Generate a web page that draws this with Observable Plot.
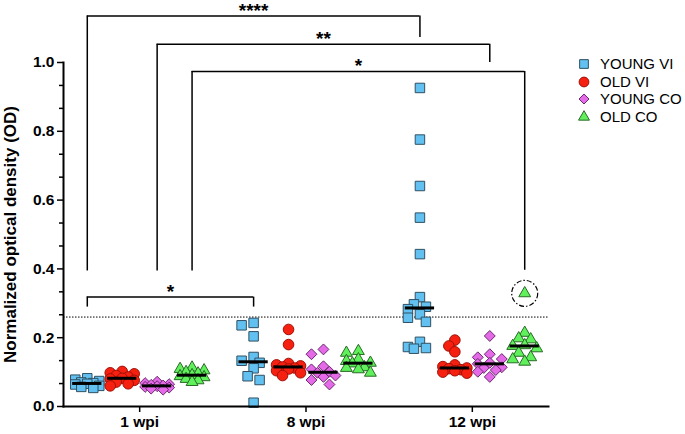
<!DOCTYPE html>
<html><head><meta charset="utf-8">
<script src="https://cdn.jsdelivr.net/npm/d3@7"></script>
<script src="https://cdn.jsdelivr.net/npm/@observablehq/plot@0.6"></script>
<style>
body{margin:0;background:#fff;font-family:"Liberation Sans",Arial,Helvetica,sans-serif;color:#000;}
#wrap{position:relative;width:685px;height:434px;}
#legend{position:absolute;left:576px;top:55px;font-size:15px;line-height:17.5px;}
#legend div{display:flex;align-items:center;white-space:nowrap;}
#legend svg{margin-right:8px;}
</style></head><body>
<div id="wrap"><div id="chart"></div><div id="legend"></div></div>
<script>
// ---- data ----
const timepoints = ["1 wpi", "8 wpi", "12 wpi"];
const seriesNames = ["YOUNG VI", "OLD VI", "YOUNG CO", "OLD CO"];
const seriesFill = ["#63c1f1", "#f5200f", "#e56ae8", "#5ff05b"];
const seriesStroke = ["#2f5063", "#a01008", "#6a2a6e", "#2a6a27"];
const seriesSymbol = ["square", "circle", "diamond2", "triangle"];

// values per series: [1 wpi, 8 wpi, 12 wpi]
const youngVI = [
  [0.082, 0.078, 0.074, 0.070, 0.068, 0.066, 0.064, 0.060, 0.057, 0.054],
  [0.243, 0.236, 0.204, 0.144, 0.133, 0.127, 0.111, 0.088, 0.077, 0.011],
  [0.926, 0.776, 0.641, 0.549, 0.443, 0.318, 0.297, 0.290, 0.283, 0.268, 0.258, 0.246, 0.188, 0.173, 0.170, 0.168]
];
const oldVI = [
  [0.102, 0.098, 0.095, 0.090, 0.086, 0.082, 0.080, 0.076, 0.071, 0.066, 0.060],
  [0.224, 0.180, 0.125, 0.121, 0.118, 0.115, 0.112, 0.109, 0.104, 0.098, 0.090],
  [0.193, 0.176, 0.159, 0.121, 0.116, 0.112, 0.110, 0.107, 0.104, 0.100, 0.097]
];
const youngCO = [
  [0.072, 0.068, 0.065, 0.063, 0.061, 0.059, 0.057, 0.055, 0.052, 0.049],
  [0.166, 0.152, 0.117, 0.108, 0.101, 0.098, 0.090, 0.086, 0.077, 0.064],
  [0.205, 0.152, 0.143, 0.138, 0.127, 0.124, 0.114, 0.112, 0.106, 0.101, 0.086]
];
const oldCO = [
  [0.113, 0.109, 0.105, 0.100, 0.096, 0.091, 0.088, 0.085, 0.080, 0.076, 0.071],
  [0.161, 0.156, 0.137, 0.132, 0.127, 0.125, 0.114, 0.112, 0.108, 0.098],
  [0.329, 0.214, 0.198, 0.195, 0.178, 0.176, 0.169, 0.156, 0.143, 0.137, 0.130]
];
const seriesValues = [youngVI, oldVI, youngCO, oldCO];

const threshold = 0.26;
const yTicks = [0, 0.2, 0.4, 0.6, 0.8, 1.0];
const yMinorTicks = [1, 2, 4, 5, 7, 8, 10, 11, 13, 14].map(k => k / 15);

// significance brackets: series index, from/to timepoint index
const brackets = [
  {label: "****", s: 0, t1: 0, t2: 2, y: 1.135, leftEnd: 0.394, rightEnd: 1.073},
  {label: "**",   s: 2, t1: 0, t2: 2, y: 1.053, leftEnd: 0.394, rightEnd: 1.0},
  {label: "*",    s: 3, t1: 0, t2: 2, y: 0.974, leftEnd: 0.394, rightEnd: 0.396},
  {label: "*",    s: 0, t1: 0, t2: 1, y: 0.318, leftEnd: 0.289, rightEnd: 0.289}
];
// highlighted outlier: OLD CO at 12 wpi
const outlierSeries = 3, outlierTime = 2;

// ---- layout ----
const W = 685, H = 434;
const mL = 63, mR = 137, mT = 62, mB = 28;
const xDomain = [0.542, 3.458];
const pxX = (W - mL - mR) / (xDomain[1] - xDomain[0]);
const pxY = (H - mT - mB) / 1;
const seriesOffset = [-0.315, -0.105, 0.105, 0.315];
const pos = (s, t) => t + 1 + seriesOffset[s];

function arrange(values, cx) {
  const sorted = values.slice().sort((a, b) => b - a);
  const placed = [];
  const step = 6, minD = 8;
  const cols = [0, -1, 1, -2, 2];
  for (const v of sorted) {
    let best = null, bestD = -1;
    for (const k of cols) {
      const off = k * step;
      const d = placed.length ? d3.min(placed, q => Math.hypot(q.off - off, (q.v - v) * pxY)) : Infinity;
      if (d >= minD) { best = off; break; }
      if (d > bestD) { bestD = d; best = off; }
    }
    placed.push({v, off: best});
  }
  return placed.map(q => ({value: q.v, x: cx + q.off / pxX}));
}

const points = [];
const medians = [];
seriesValues.forEach((arr, s) => {
  arr.forEach((vals, t) => {
    const cx = pos(s, t);
    arrange(vals, cx).forEach(p => points.push({...p, s}));
    medians.push({x1: cx - 0.088, x2: cx + 0.088, y: d3.median(vals)});
  });
});

const outlier = {x: pos(outlierSeries, outlierTime), y: d3.max(seriesValues[outlierSeries][outlierTime])};

const bracketH = brackets.map(b => ({x1: pos(b.s, b.t1), x2: pos(b.s, b.t2), y: b.y}));
const bracketV = brackets.flatMap(b => [
  {x: pos(b.s, b.t1), y1: b.leftEnd, y2: b.y},
  {x: pos(b.s, b.t2), y1: b.rightEnd, y2: b.y}
]);
const bracketT = brackets.map(b => ({x: (pos(b.s, b.t1) + pos(b.s, b.t2)) / 2, y: b.y, label: b.label}));

const rValues = [5.35, 5.3, 4.9, 4.4];

const marks = [
  Plot.ruleY([threshold], {stroke: "#000", strokeWidth: 1, strokeDasharray: "1.5,1.5"}),
  ...seriesNames.map((name, s) => Plot.dot(points.filter(p => p.s === s), {
    x: "x", y: "value", symbol: seriesSymbol[s], r: rValues[s],
    fill: seriesFill[s], stroke: seriesStroke[s], strokeWidth: 1
  })),
  Plot.ruleY(medians, {x1: "x1", x2: "x2", y: "y", stroke: "#000", strokeWidth: 3}),
  Plot.dot([outlier], {x: "x", y: "y", r: 13, fill: "none", stroke: "#000", strokeWidth: 1.2, strokeDasharray: "5,2,1.5,2"}),
  Plot.ruleY(bracketH, {x1: "x1", x2: "x2", y: "y", stroke: "#000", strokeWidth: 1.5}),
  Plot.ruleX(bracketV, {x: "x", y1: "y1", y2: "y2", stroke: "#000", strokeWidth: 1.5}),
  Plot.text(bracketT, {x: "x", y: "y", text: "label", lineAnchor: "bottom", dy: 1, fontSize: 19, fontWeight: "bold", fill: "#000"}),
  Plot.axisY({ticks: yMinorTicks, tickSize: 4, tickFormat: () => "", strokeWidth: 1.5, label: null}),
  Plot.axisY({ticks: yTicks, tickSize: 6, tickPadding: 3, tickFormat: d3.format(".1f"), fontSize: 15.5, fontWeight: "bold", strokeWidth: 1.5, label: null}),
  Plot.axisX({ticks: [1, 2, 3], tickSize: 6, tickPadding: 3, tickFormat: i => timepoints[i - 1], fontSize: 15.5, fontWeight: "bold", strokeWidth: 1.5, label: null}),
  Plot.frame({anchor: "left", stroke: "#000", strokeWidth: 2}),
  Plot.frame({anchor: "bottom", stroke: "#000", strokeWidth: 2}),
  Plot.text(["Normalized optical density (OD)"], {frameAnchor: "left", textAnchor: "middle", rotate: -90, dx: -53, fontSize: 17, fontWeight: "bold", fill: "#000"})
];

const chart = Plot.plot({
  width: W, height: H,
  marginLeft: mL, marginRight: mR, marginTop: mT, marginBottom: mB,
  style: {fontFamily: '"Liberation Sans", Arial, Helvetica, sans-serif', color: "#000", background: "#fff", overflow: "visible"},
  x: {domain: xDomain},
  y: {domain: [0, 1]},
  marks
});
document.getElementById("chart").appendChild(chart);

// legend
const legend = document.getElementById("legend");
const d3Sym = {square: d3.symbolSquare, circle: d3.symbolCircle, diamond2: d3.symbolDiamond2, triangle: d3.symbolTriangle};
seriesNames.forEach((name, s) => {
  const row = document.createElement("div");
  const size = Math.PI * rValues[s] * rValues[s] * 0.85;
  const path = d3.symbol().type(d3Sym[seriesSymbol[s]]).size(size)();
  row.innerHTML = `<svg width="16" height="17.5"><path transform="translate(8,9)" d="${path}" fill="${seriesFill[s]}" stroke="${seriesStroke[s]}" stroke-width="1"></path></svg><span>${name}</span>`;
  legend.appendChild(row);
});
</script>
</body></html>
